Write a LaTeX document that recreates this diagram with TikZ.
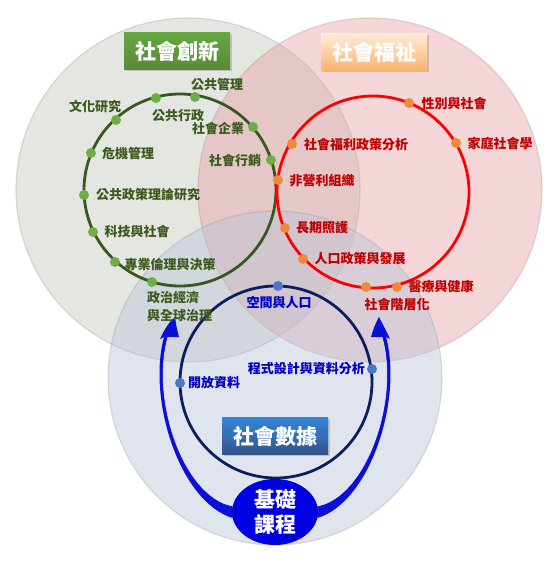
\documentclass[tikz,border=0pt]{standalone}
\usepackage{fontspec}
\setmainfont{Noto Sans CJK TC}
\usetikzlibrary{shadows,shapes.geometric}
\definecolor{bggray}{HTML}{C3C8BE}
\definecolor{bgpink}{HTML}{E7A2A8}
\definecolor{bgblue}{HTML}{BAC4D6}
\definecolor{ringgreen}{HTML}{385723}
\definecolor{ringred}{HTML}{FF0000}
\definecolor{ringnavy}{HTML}{0B1F5E}
\definecolor{dotgreen}{HTML}{70AD47}
\definecolor{dotorange}{HTML}{F08A3A}
\definecolor{dotblue}{HTML}{4A78C6}
\definecolor{txtgreen}{HTML}{3C5A1E}
\definecolor{txtred}{HTML}{C00000}
\definecolor{txtblue}{HTML}{0000C8}
\definecolor{swooshblue}{HTML}{0A10D8}
\definecolor{ellblue}{HTML}{0000E0}
\begin{document}
\begin{tikzpicture}[x=1bp,y=-1bp,
  bigcirc/.style={fill opacity=0.45, draw opacity=0.25, line width=1.2bp},
  ring/.style={line width=2.8bp},
  dotnode/.style={circle, inner sep=0pt, minimum size=10bp},
  gdot/.style={dotnode, fill=dotgreen},
  odot/.style={dotnode, fill=dotorange},
  bdot/.style={dotnode, fill=dotblue},
  lbl/.style={inner sep=0pt, font=\fontsize{13bp}{18bp}\selectfont\bfseries},
  glbl/.style={lbl, text=txtgreen},
  rlbl/.style={lbl, text=txtred},
  blbl/.style={lbl, text=txtblue},
  titlebox/.style={minimum width=106bp, minimum height=37bp, inner sep=0pt,
    text=white, font=\fontsize{21bp}{24bp}\selectfont\bfseries,
    drop shadow={opacity=0.35, shadow xshift=1.5bp, shadow yshift=-1.5bp}},
  swoosh/.style={fill=swooshblue},
  shine/.style={white, line width=0.6bp, opacity=0.8}
]
\useasboundingbox (0,0) rectangle (558,564);
% big background circles
\path[bigcirc, fill=bggray, draw=gray] (188,190) circle[radius=172bp];
\path[bigcirc, fill=bgpink, draw=bgpink!70!black] (370,190) circle[radius=172bp];
\path[bigcirc, fill=bgblue, draw=bgblue!70!black] (275,378) circle[radius=167bp];
% rings
\draw[ring, ringgreen] (180,190) circle[radius=96bp];
\draw[ring, ringred] (373,192) circle[radius=96bp];
\draw[ring, ringnavy] (276,382) circle[radius=96bp];
% titles
\node[titlebox, top color=green!45!black!10!dotgreen, bottom color=dotgreen!80!black] (tInno) at (177,51) {社會創新};
\node[titlebox, top color=orange!15!white, bottom color=orange!55!white!90!brown] (tWelf) at (374,52) {社會福祉};
\node[titlebox, top color=blue!35!cyan!30!dotblue, bottom color=dotblue!70!black] (tData) at (275,436) {社會數據};
% basic courses ellipse
\node[ellipse, fill=ellblue, minimum width=86bp, minimum height=66bp, inner sep=0pt,
  text=white, align=center, font=\fontsize{21bp}{25bp}\selectfont\bfseries] (basic) at (275,512) {基礎\\課程};
% swooshes
\coordinate (ltip) at (175,317);
\coordinate (rtip) at (379,317);
\fill[swoosh] (basic.188) .. controls (180,502) and (147,400) .. (164,337)
  -- (160,339) .. controls (165,328) and (170,321) .. (ltip)
  .. controls (176,324) and (177,330) .. (179,337)
  -- (168,337) .. controls (150,400) and (184,497) .. (basic.172) -- cycle;
\draw[shine] (168,337) .. controls (150,400) and (184,497) .. (basic.172);
\fill[swoosh] (basic.-8) .. controls (370,502) and (403,400) .. (386,337)
  -- (390,339) .. controls (385,328) and (381,321) .. (rtip)
  .. controls (375,324) and (373,330) .. (371,337)
  -- (382,337) .. controls (400,400) and (366,497) .. (basic.8) -- cycle;
\draw[shine] (382,337) .. controls (400,400) and (366,497) .. (basic.8);
% green dots and labels
\node[gdot] (g1) at (195,97) {};
\node[gdot] (g2) at (156,98) {};
\node[gdot] (g3) at (116,120) {};
\node[gdot] (g4) at (253,127) {};
\node[gdot] (g5) at (91,153) {};
\node[gdot] (g6) at (271,160) {};
\node[gdot] (g7) at (84,195) {};
\node[gdot] (g8) at (93,232) {};
\node[gdot] (g9) at (115,262) {};
\node[gdot] (g10) at (152,282) {};
\node[glbl] (lg1) at (217,85) {公共管理};
\node[glbl] (lg2) at (178,116) {公共行政};
\node[glbl] (lg3) at (95,107) {文化研究};
\node[glbl] (lg4) at (218,128) {社會企業};
\node[glbl] (lg5) at (128,154) {危機管理};
\node[glbl] (lg6) at (235,161) {社會行銷};
\node[glbl] (lg7) at (148,195) {公共政策理論研究};
\node[glbl] (lg8) at (137,231) {科技與社會};
\node[glbl] (lg9) at (170,264) {專業倫理與決策};
\node[glbl, anchor=west, align=left] (lg10) at (147,307) {政治經濟\\與全球治理};
% red dots and labels
\node[odot] (r1) at (409,103) {};
\node[odot] (r2) at (292,144) {};
\node[odot] (r3) at (456,143) {};
\node[odot] (r4) at (278,180) {};
\node[odot] (r5) at (285,228) {};
\node[odot] (r6) at (303,259) {};
\node[odot] (r7) at (366,287) {};
\node[odot] (r8) at (397,287) {};
\node[rlbl] (lr1) at (454,103) {性別與社會};
\node[rlbl] (lr2) at (356,145) {社會福利政策分析};
\node[rlbl] (lr3) at (500,143) {家庭社會學};
\node[rlbl] (lr4) at (322,181) {非營利組織};
\node[rlbl] (lr5) at (322,228) {長期照護};
\node[rlbl] (lr6) at (360,259) {人口政策與發展};
\node[rlbl] (lr7) at (397,304) {社會階層化};
\node[rlbl] (lr8) at (441,287) {醫療與健康};
% blue dots and labels
\node[bdot] (b1) at (278,286) {};
\node[bdot] (b2) at (372,369) {};
\node[bdot] (b3) at (180,383) {};
\node[blbl] (lb1) at (279,302) {空間與人口};
\node[blbl, anchor=east] (lb2) at (365,369) {程式設計與資料分析};
\node[blbl] (lb3) at (214,383) {開放資料};
\end{tikzpicture}
\end{document}
